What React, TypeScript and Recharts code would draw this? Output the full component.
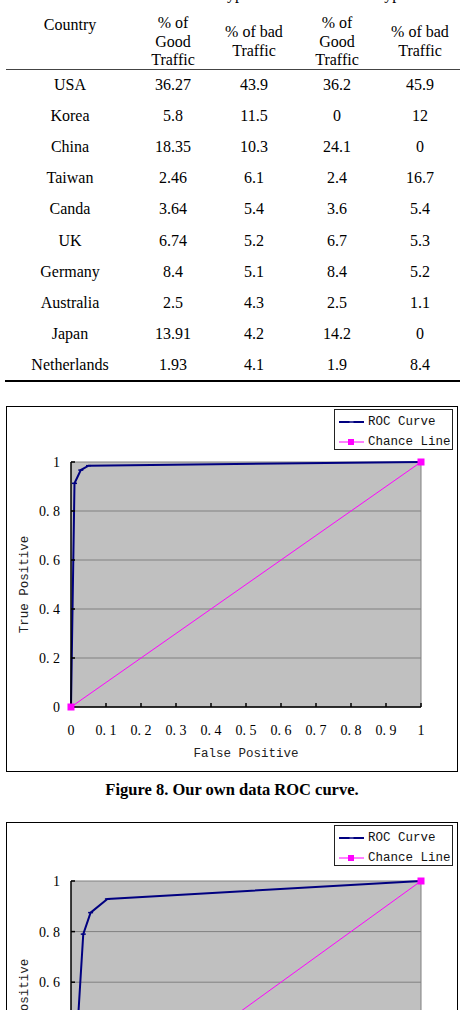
import React from 'react';
import {
  LineChart,
  Line,
  XAxis,
  YAxis,
  CartesianGrid,
  Legend,
  ReferenceLine
} from 'recharts';

// Table 5 (rows per country)
const countries = ['USA', 'Korea', 'China', 'Taiwan', 'Canda', 'UK', 'Germany', 'Australia', 'Japan', 'Netherlands'];
const goodTypeI = ['36.27', '5.8', '18.35', '2.46', '3.64', '6.74', '8.4', '2.5', '13.91', '1.93'];
const badTypeI = ['43.9', '11.5', '10.3', '6.1', '5.4', '5.2', '5.1', '4.3', '4.2', '4.1'];
const goodTypeII = ['36.2', '0', '24.1', '2.4', '3.6', '6.7', '8.4', '2.5', '14.2', '1.9'];
const badTypeII = ['45.9', '12', '0', '16.7', '5.4', '5.3', '5.2', '1.1', '0', '8.4'];

// Figure 8 ROC curve
const fig8FalsePos = [0, 0.01, 0.028, 0.05, 1];
const fig8TruePos = [0, 0.913, 0.967, 0.985, 1];

// Figure 9 ROC curve (bottom chart, cut off by the page)
const fig9FalsePos = [0, 0.035, 0.056, 0.104, 1];
const fig9TruePos = [0, 0.79, 0.875, 0.929, 1];

const chanceFalsePos = [0, 1];
const chanceTruePos = [0, 1];

const xTicks = [0, 0.1, 0.2, 0.3, 0.4, 0.5, 0.6, 0.7, 0.8, 0.9, 1];
const yTicks = [0, 0.2, 0.4, 0.6, 0.8, 1];

const NAVY = '#000080';
const MAGENTA = '#FF00FF';
const SERIF = '"Liberation Serif", "Times New Roman", serif';
const MONO = '"Liberation Mono", monospace';

const toPoints = (xs: number[], ys: number[]) => xs.map((x, i) => ({ x, y: ys[i] }));

const fmtTick = (v: number) => (v === 0 || v === 1 ? String(v) : '0. ' + Math.round(v * 10));

const DashDot = (props: any) => {
  const { cx, cy } = props;
  if (cx == null || cy == null) return null;
  return <line x1={cx - 2.5} x2={cx + 2.5} y1={cy} y2={cy} stroke={NAVY} strokeWidth={1.5} />;
};

const SquareDot = (props: any) => {
  const { cx, cy } = props;
  if (cx == null || cy == null) return null;
  return <rect x={cx - 3.5} y={cy - 3.5} width={7} height={7} fill={MAGENTA} />;
};

const RocLegend = () => (
  <div style={{
    position: 'absolute',
    left: 0,
    top: 0,
    width: 119,
    height: 41,
    border: '1px solid #222',
    background: '#fff',
    boxSizing: 'border-box',
    fontFamily: MONO,
    fontSize: 12.5,
    color: '#111'
  }}>
    <svg width={30} height={41} style={{ position: 'absolute', left: 0, top: 0 }}>
      <line x1={4} x2={29} y1={12} y2={12} stroke={NAVY} strokeWidth={2} />
      <line x1={14.5} x2={18.5} y1={12} y2={12} stroke="#8080c0" strokeWidth={1} />
      <line x1={4} x2={29} y1={32} y2={32} stroke={MAGENTA} strokeWidth={1} />
      <rect x={13} y={29} width={6} height={6} fill={MAGENTA} />
    </svg>
    <div style={{ position: 'absolute', left: 33, top: 3, lineHeight: '18px' }}>ROC Curve</div>
    <div style={{ position: 'absolute', left: 33, top: 23, lineHeight: '18px' }}>Chance Line</div>
  </div>
);

interface RocChartProps {
  left: number;
  top: number;
  height: number;
  marginTop: number;
  roc: { x: number; y: number }[];
}

const RocChart: React.FC<RocChartProps> = ({ left, top, height, marginTop, roc }) => {
  const chance = toPoints(chanceFalsePos, chanceTruePos);
  return (
    <>
      <div style={{
        position: 'absolute',
        left: left - 1,
        top: top - 1,
        width: 452,
        height: height + 2,
        border: '1.5px solid #000',
        boxSizing: 'border-box',
        pointerEvents: 'none',
        zIndex: 2
      }} />
      <div style={{ position: 'absolute', left, top }}>
        <LineChart width={450} height={height} margin={{ top: marginTop, right: 36, bottom: 24, left: 20 }}>
          <CartesianGrid
            vertical={false}
            stroke="#808080"
            strokeWidth={1}
            fill="#C0C0C0"
            fillOpacity={1}
          />
          <XAxis
            type="number"
            dataKey="x"
            domain={[0, 1]}
            ticks={xTicks}
            tickFormatter={fmtTick}
            height={40}
            tickSize={-4}
            tickMargin={22}
            axisLine={{ stroke: '#000', strokeWidth: 1.5 }}
            tickLine={{ stroke: '#000', strokeWidth: 1.5 }}
            tick={{ fill: '#000', fontSize: 14, fontFamily: SERIF }}
            interval={0}
            label={{ value: 'False Positive', position: 'bottom', offset: 1, fill: '#222', fontSize: 12.5, fontFamily: MONO }}
          />
          <YAxis
            type="number"
            dataKey="y"
            domain={[0, 1]}
            ticks={yTicks}
            tickFormatter={fmtTick}
            width={44}
            tickSize={-4}
            tickMargin={15}
            axisLine={{ stroke: '#000', strokeWidth: 1.5 }}
            tickLine={{ stroke: '#000', strokeWidth: 1.5 }}
            tick={{ fill: '#000', fontSize: 14, fontFamily: SERIF }}
            interval={0}
            label={{
              content: (p: any) => {
                const vb = p.viewBox || {};
                const cy = (vb.y || 0) + (vb.height || 0) / 2;
                return (
                  <text
                    x={18}
                    y={cy}
                    transform={`rotate(-90, 18, ${cy})`}
                    textAnchor="middle"
                    dominantBaseline="central"
                    fill="#222"
                    fontSize={12.5}
                    fontFamily={MONO}
                  >
                    True Positive
                  </text>
                );
              }
            }}
          />
          <ReferenceLine x={1} stroke="#808080" strokeWidth={1} />
          <Legend
            content={() => <RocLegend />}
            wrapperStyle={{ left: 327, top: 2, width: 0, height: 0, overflow: 'visible' }}
          />
          <Line
            data={roc}
            dataKey="y"
            name="ROC Curve"
            type="linear"
            stroke={NAVY}
            strokeWidth={2}
            dot={<DashDot />}
            activeDot={false}
            isAnimationActive={false}
          />
          <Line
            data={chance}
            dataKey="y"
            name="Chance Line"
            type="linear"
            stroke={MAGENTA}
            strokeWidth={1}
            dot={<SquareDot />}
            activeDot={false}
            isAnimationActive={false}
          />
        </LineChart>
      </div>
    </>
  );
};

const cell = (text: string, cx: number, cy: number, key: string) => (
  <div
    key={key}
    style={{
      position: 'absolute',
      left: cx - 60,
      top: cy - 9,
      width: 120,
      textAlign: 'center',
      lineHeight: '18px'
    }}
  >
    {text}
  </div>
);

const colX = [70, 173, 254, 337, 420];

const DataTable = () => {
  const rows = countries.map((c, i) => {
    const cy = 85 + i * 31.1;
    return [
      cell(c, colX[0], cy, `c${i}`),
      cell(goodTypeI[i], colX[1], cy, `g1${i}`),
      cell(badTypeI[i], colX[2], cy, `b1${i}`),
      cell(goodTypeII[i], colX[3], cy, `g2${i}`),
      cell(badTypeII[i], colX[4], cy, `b2${i}`)
    ];
  });
  return (
    <div style={{ position: 'absolute', left: 0, top: 0, width: 464, height: 400, fontFamily: SERIF, fontSize: 16, color: '#000' }}>
      {cell('DDoS Type I', 217, -6, 'h1')}
      {cell('DDoS Type II', 377, -6, 'h2')}
      {cell('Country', colX[0], 25, 'hc')}
      {cell('% of', colX[1], 23, 'h11')}
      {cell('Good', colX[1], 42, 'h12')}
      {cell('Traffic', colX[1], 60, 'h13')}
      {cell('% of bad', colX[2], 32, 'h21')}
      {cell('Traffic', colX[2], 51, 'h22')}
      {cell('% of', colX[3], 23, 'h31')}
      {cell('Good', colX[3], 42, 'h32')}
      {cell('Traffic', colX[3], 60, 'h33')}
      {cell('% of bad', colX[4], 32, 'h41')}
      {cell('Traffic', colX[4], 51, 'h42')}
      <div style={{ position: 'absolute', left: 6, top: 69, width: 454, height: 1, background: '#444' }} />
      {rows}
      <div style={{ position: 'absolute', left: 5, top: 380, width: 455, height: 1.5, background: '#000' }} />
    </div>
  );
};

export default function App() {
  return (
    <div style={{
      position: 'absolute',
      left: 0,
      top: 0,
      width: 464,
      height: 1010,
      overflow: 'hidden',
      background: '#fff'
    }}>
      <DataTable />
      <RocChart left={7} top={407} height={364} marginTop={55} roc={toPoints(fig8FalsePos, fig8TruePos)} />
      <div style={{
        position: 'absolute',
        left: 0,
        top: 780,
        width: 464,
        textAlign: 'center',
        fontFamily: SERIF,
        fontWeight: 'bold',
        fontSize: 16.5,
        lineHeight: '20px',
        color: '#000'
      }}>
        Figure 8. Our own data ROC curve.
      </div>
      <RocChart left={7} top={823} height={375} marginTop={58} roc={toPoints(fig9FalsePos, fig9TruePos)} />
    </div>
  );
}
